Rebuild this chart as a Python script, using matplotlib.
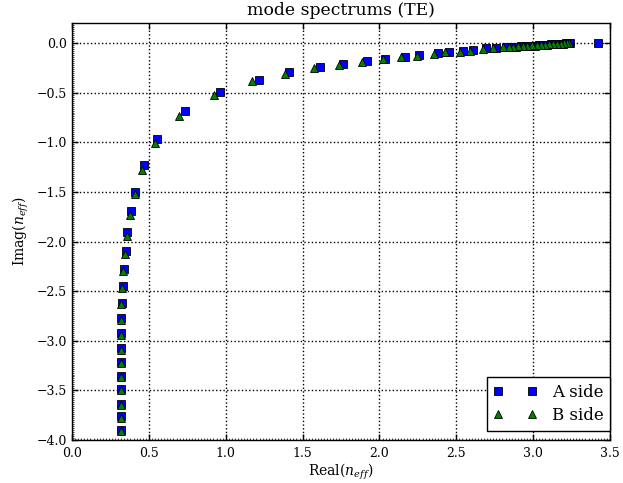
import matplotlib
matplotlib.use("Agg")
import matplotlib.pyplot as plt
from matplotlib.ticker import MultipleLocator

plt.rcParams['font.family'] = ['DejaVu Serif']
plt.rcParams['mathtext.fontset'] = 'dejavuserif'

# effective index of the modes, A side (real, imag)
a_real = [3.42, 3.240, 3.232, 3.212, 3.191, 3.170, 3.145, 3.118, 3.092, 3.066, 3.038,
          3.010, 2.981, 2.950, 2.919, 2.889, 2.858, 2.825, 2.758, 2.693, 2.610,
          2.541, 2.450, 2.379, 2.260, 2.167, 2.039, 1.922, 1.762, 1.614, 1.413,
          1.219, 0.963, 0.736, 0.554, 0.468, 0.411, 0.381, 0.359, 0.348, 0.335,
          0.329, 0.322, 0.320, 0.318, 0.317, 0.316, 0.316, 0.316, 0.316, 0.316,
          0.316]
a_imag = [0.0, -0.001, -0.002, -0.004, -0.006, -0.009, -0.011, -0.014, -0.016, -0.019,
          -0.022, -0.025, -0.028, -0.031, -0.034, -0.037, -0.040, -0.043, -0.047,
          -0.053, -0.074, -0.081, -0.091, -0.104, -0.121, -0.138, -0.158, -0.178,
          -0.208, -0.242, -0.295, -0.369, -0.493, -0.685, -0.970, -1.229, -1.497,
          -1.695, -1.906, -2.095, -2.273, -2.444, -2.615, -2.773, -2.924, -3.071,
          -3.213, -3.360, -3.487, -3.635, -3.763, -3.897]

# B side
b_real = [3.236, 3.223, 3.201, 3.180, 3.158, 3.130, 3.104, 3.078, 3.050, 3.022,
          2.992, 2.963, 2.931, 2.901, 2.870, 2.840, 2.801, 2.740, 2.675, 2.591,
          2.526, 2.429, 2.357, 2.247, 2.141, 2.026, 1.884, 1.736, 1.571, 1.385,
          1.169, 0.926, 0.695, 0.539, 0.455, 0.407, 0.375, 0.355, 0.344, 0.333,
          0.327, 0.320, 0.318, 0.317, 0.316, 0.316, 0.316, 0.316, 0.316, 0.316,
          0.316]
b_imag = [-0.001, -0.002, -0.004, -0.006, -0.008, -0.011, -0.013, -0.015, -0.018,
          -0.020, -0.023, -0.026, -0.029, -0.032, -0.035, -0.038, -0.042, -0.053,
          -0.063, -0.078, -0.088, -0.094, -0.111, -0.131, -0.144, -0.164, -0.188,
          -0.218, -0.255, -0.312, -0.386, -0.520, -0.735, -1.010, -1.279, -1.521,
          -1.735, -1.940, -2.128, -2.296, -2.470, -2.630, -2.790, -2.940, -3.090,
          -3.225, -3.370, -3.500, -3.650, -3.775, -3.910]

fig = plt.figure(figsize=(6.23, 4.83), dpi=100)
ax = fig.add_axes([0.1156, 0.089, 0.8636, 0.863])

ax.plot(a_real, a_imag, 's', color='b', markeredgecolor='k', markeredgewidth=0.6,
        markersize=5.2, label='A side')
ax.plot(b_real, b_imag, '^', color='g', markeredgecolor='k', markeredgewidth=0.6,
        markersize=5.2, label='B side')

ax.set_xlim(0.0, 3.5)
ax.set_ylim(-4.0, 0.2)
ax.xaxis.set_major_locator(MultipleLocator(0.5))
ax.yaxis.set_major_locator(MultipleLocator(0.5))
ax.xaxis.set_minor_locator(MultipleLocator(0.02))
ax.yaxis.set_minor_locator(MultipleLocator(0.02))
ax.tick_params(which='major', direction='in', length=4, width=1,
               top=True, right=True, labelsize=9)
ax.tick_params(axis='x', which='major', pad=5)
ax.tick_params(axis='y', which='major', pad=3.5)
ax.tick_params(which='minor', direction='in', length=1.5, width=0.5,
               top=False, right=False)

ax.grid(True, which='major', color='k', linestyle=':', linewidth=1)
for s in ax.spines.values():
    s.set_linewidth(1)

ax.set_title('mode spectrums (TE)', fontsize=12.4)
ax.set_xlabel(r'Real($n_{eff}$)', fontsize=10, labelpad=1)
ax.set_ylabel(r'Imag($n_{eff}$)', fontsize=10)

leg = ax.legend(loc='lower right', bbox_to_anchor=(1.0, 0.022), borderaxespad=0,
                numpoints=2, fontsize=12, fancybox=False, framealpha=1,
                edgecolor='k', handlelength=2.6, handletextpad=0.9,
                labelspacing=0.4, borderpad=0.4)
leg.get_frame().set_linewidth(1)

fig.savefig('out.png', dpi=100)
